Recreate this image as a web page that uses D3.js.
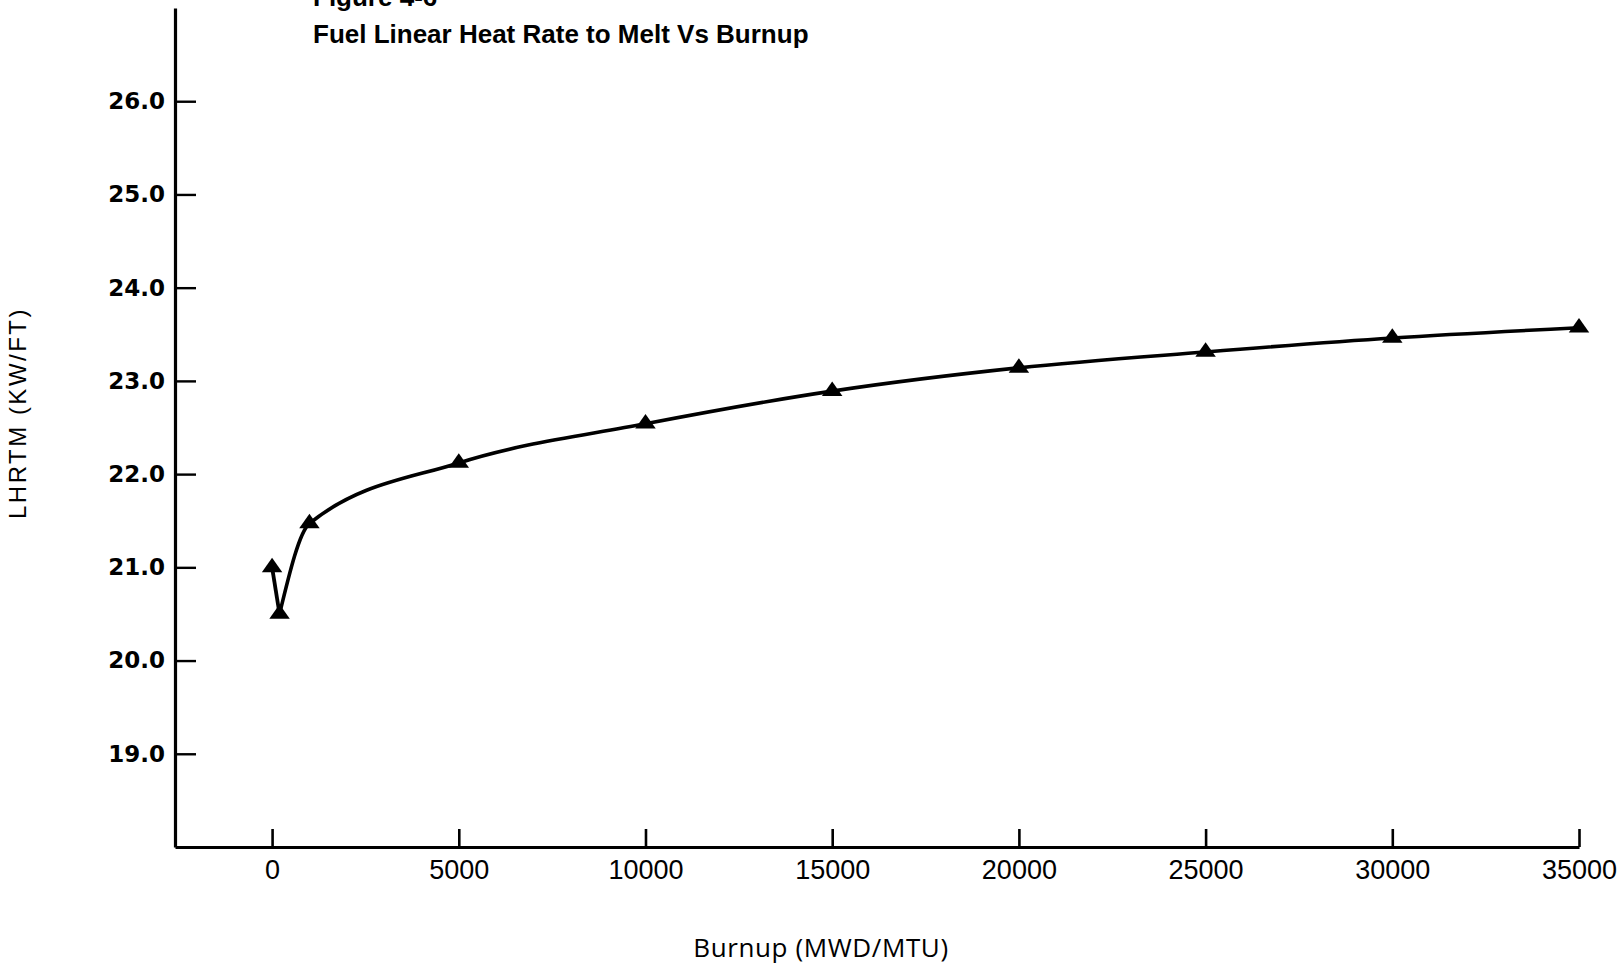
<!DOCTYPE html>
<html lang="en">
<head>
<meta charset="utf-8">
<title>Fuel Linear Heat Rate to Melt Vs Burnup</title>
<script src="https://d3js.org/d3.v7.min.js"></script>
<style>
  html, body { margin: 0; padding: 0; background: #fff; }
  svg { display: block; }
</style>
</head>
<body>
<div id="chart"></div>
<script>
// data
var burnup = [0, 200, 1000, 5000, 10000, 15000, 20000, 25000, 30000, 35000]
var lhrtm  = [21.0, 20.5, 21.47, 22.12, 22.54, 22.89, 23.14, 23.31, 23.46, 23.57]
var xTicks = [0, 5000, 10000, 15000, 20000, 25000, 30000, 35000]
var yTicks = [19, 20, 21, 22, 23, 24, 25, 26]

var width = 1618
var height = 964

var svg = d3.select("#chart").append("svg")
    .attr("width", width)
    .attr("height", height)

var x = d3.scaleLinear().domain([-2600, 35000]).range([175, 1579])
var y = d3.scaleLinear().domain([18, 27]).range([847, 8])

var points = burnup.map(function (d, i) { return { x: d, y: lhrtm[i] } })

// y axis, ticks pointing inward
var yAxis = svg.append("g")
    .attr("transform", "translate(" + x(-2600) + ",0)")
    .call(d3.axisLeft(y).tickValues(yTicks).tickSizeInner(-21).tickSizeOuter(0)
        .tickPadding(10).tickFormat(d3.format(".1f")))
yAxis.select(".domain").attr("stroke-width", 3.2)
yAxis.selectAll(".tick line").attr("stroke-width", 2.4)
yAxis.selectAll("text")
    .style("font-family", "'DejaVu Sans'")
    .style("font-weight", "bold")
    .style("font-size", "23px")
    .attr("fill", "#000")

// x axis, ticks pointing up
var xAxis = svg.append("g")
    .attr("transform", "translate(0," + y(18) + ")")
    .call(d3.axisBottom(x).tickValues(xTicks).tickSizeInner(-18).tickSizeOuter(0)
        .tickPadding(13).tickFormat(d3.format("d")))
xAxis.select(".domain").attr("stroke-width", 2.8)
xAxis.selectAll(".tick line").attr("stroke-width", 2.6)
xAxis.selectAll("text")
    .style("font-family", "'Liberation Sans'")
    .style("font-size", "27px")
    .attr("fill", "#000")

// first leg is a straight segment, the rest is a smooth curve
var line = d3.line().x(function (d) { return x(d.x) }).y(function (d) { return y(d.y) })

svg.append("path")
    .datum(points.slice(0, 2))
    .attr("d", line.curve(d3.curveLinear))
    .attr("fill", "none")
    .attr("stroke", "#000")
    .attr("stroke-width", 3.8)

svg.append("path")
    .datum(points.slice(1))
    .attr("d", line.curve(d3.curveMonotoneX))
    .attr("fill", "none")
    .attr("stroke", "#000")
    .attr("stroke-width", 3.6)

// triangle markers
svg.selectAll(".marker")
    .data(points)
    .enter()
    .append("path")
    .attr("class", "marker")
    .attr("d", d3.symbol().type(d3.symbolTriangle).size(150))
    .attr("transform", function (d) { return "translate(" + x(d.x) + "," + y(d.y) + ") scale(1.1,0.9)" })
    .attr("fill", "#000")

// titles
svg.append("text")
    .attr("x", 313)
    .attr("y", 6)
    .style("font-family", "'Liberation Sans'")
    .style("font-weight", "bold")
    .style("font-size", "26px")
    .text("Figure 4-6")

svg.append("text")
    .attr("x", 313)
    .attr("y", 43)
    .style("font-family", "'Liberation Sans'")
    .style("font-weight", "bold")
    .style("font-size", "26px")
    .text("Fuel Linear Heat Rate to Melt Vs Burnup")

svg.append("text")
    .attr("transform", "translate(26,413) rotate(-90)")
    .attr("text-anchor", "middle")
    .style("font-family", "'Liberation Sans'")
    .style("font-size", "24px")
    .style("letter-spacing", "2.5px")
    .text("LHRTM (KW/FT)")

svg.append("text")
    .attr("x", 821)
    .attr("y", 957)
    .attr("text-anchor", "middle")
    .style("font-family", "'Open Sans'")
    .style("font-size", "26px")
    .style("letter-spacing", "0.6px")
    .text("Burnup (MWD/MTU)")
</script>
</body>
</html>
